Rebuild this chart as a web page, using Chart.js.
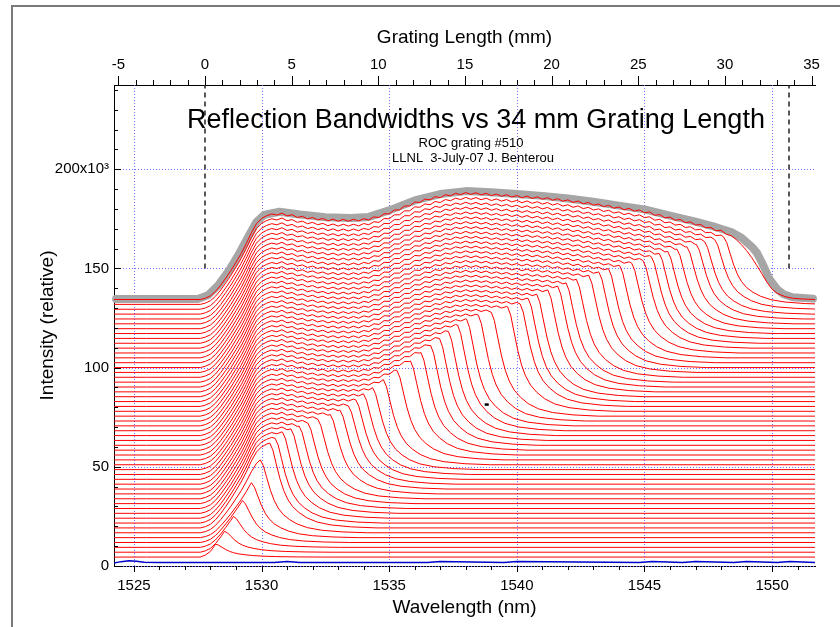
<!DOCTYPE html>
<html>
<head>
<meta charset="utf-8">
<script src="https://cdn.jsdelivr.net/npm/chart.js@4.4.1/dist/chart.umd.min.js"></script>
<style>
  html, body { margin: 0; padding: 0; background: #fff; }
  canvas { display: block; }
</style>
</head>
<body>
<canvas id="gratingChart" width="840" height="627"></canvas>
<script>
// ---- data (intensity in units of 10^3) ----

// full-length (top) spectrum: wavelength (nm) and intensity
const envWl = [1524.22, 1525.5, 1527.0, 1527.6, 1527.8, 1528.0, 1528.2, 1528.4, 1528.6, 1528.8,
  1529.0, 1529.2, 1529.4, 1529.6, 1529.8, 1530.0, 1530.2,
  1530.4, 1530.6, 1530.8, 1531.0, 1531.2, 1531.4, 1531.6, 1531.8, 1532.0, 1532.2,
  1532.4, 1532.6, 1532.8, 1533.0, 1533.2, 1533.4, 1533.6, 1533.8, 1534.0, 1534.2,
  1534.4, 1534.6, 1534.8, 1535.0, 1535.2, 1535.4, 1535.6, 1535.8, 1536.0, 1536.2,
  1536.4, 1536.6, 1536.8, 1537.0, 1537.2, 1537.4, 1537.6, 1537.8, 1538.0, 1538.2,
  1538.4, 1538.6, 1538.8, 1539.0, 1539.2, 1539.4, 1539.6, 1539.8, 1540.0, 1540.2,
  1540.4, 1540.6, 1540.8, 1541.0, 1541.2, 1541.4, 1541.6, 1541.8, 1542.0, 1542.2,
  1542.4, 1542.6, 1542.8, 1543.0, 1543.2, 1543.4, 1543.6, 1543.8, 1544.0, 1544.2,
  1544.4, 1544.6, 1544.8, 1545.0, 1545.2, 1545.4, 1545.6, 1545.8, 1546.0, 1546.2,
  1546.4, 1546.6, 1546.8, 1547.0, 1547.2, 1547.4, 1547.6, 1547.8, 1548.0, 1548.2,
  1548.4, 1548.6, 1548.8, 1549.0, 1549.2, 1549.4, 1549.6, 1549.8, 1550.0, 1550.2,
  1550.5, 1550.8, 1551.2, 1551.7];
const envTop = [134.35, 134.35, 134.35, 134.35, 135.0, 136.2, 138.5, 141.6, 145.2, 149.0,
  153.2, 157.5, 162.5, 168.0, 172.6, 175.2, 176.6,
  177.5, 176.9, 177.9, 176.5, 177.1, 175.7, 176.3, 175.0, 175.7, 174.5,
  175.2, 174.0, 174.9, 173.8, 174.8, 173.8, 174.8, 173.9, 175.1, 174.5,
  176.0, 175.7, 177.6, 177.5, 179.5, 179.5, 181.5, 181.5, 183.5, 183.3,
  185.0, 184.6, 186.2, 185.7, 187.2, 186.6, 187.9, 187.2, 188.3, 187.3,
  188.2, 187.1, 187.9, 186.7, 187.5, 186.4, 187.2, 186.0, 186.8, 185.6,
  186.5, 185.3, 186.1, 184.9, 185.7, 184.4, 185.2, 183.9, 184.6, 183.3,
  184.0, 182.6, 183.3, 181.9, 182.5, 181.2, 181.8, 180.4, 181.0, 179.6,
  180.3, 178.9, 179.5, 178.1, 178.5, 176.8, 177.2, 175.5, 175.9, 174.3,
  174.7, 173.1, 173.5, 171.9, 172.2, 170.5, 170.7, 169.0, 169.3, 167.3,
  166.5, 164.5, 162.0, 159.0, 155.5, 151.5, 147.3, 143.0, 139.5, 137.5,
  135.8, 135.0, 134.6, 134.35];

// baseline of each stacked trace (bottom to top)
const traceBase = [4.5, 6.95, 9.4, 11.85, 14.3, 16.75, 19.2, 21.65, 24.1, 26.55,
  29.0, 31.45, 33.9, 36.35, 38.8, 41.25, 43.7, 46.15, 48.6, 51.05,
  53.5, 55.95, 58.4, 60.85, 63.3, 65.75, 68.2, 70.65, 73.1, 75.55,
  78.0, 80.45, 82.9, 85.35, 87.8, 90.25, 92.7, 95.15, 97.6, 100.05,
  102.5, 104.95, 107.4, 109.85, 112.3, 114.75, 117.2, 119.65, 122.1, 124.55,
  127.0, 129.45, 131.9, 134.35];

// wavelength where each trace's reflection band ends (null = full band)
const traceCut = [1528.2, 1528.55, 1528.9, 1529.25, 1529.6, 1529.95, 1530.32, 1530.53, 1530.82, 1531.15,
  1531.47, 1531.81, 1532.2, 1532.69, 1533.07, 1533.4, 1533.69, 1533.99, 1534.35, 1534.77,
  1535.3, 1535.83, 1536.24, 1536.62, 1536.97, 1537.32, 1537.68, 1538.03, 1538.49, 1539.0,
  1539.64, 1540.13, 1540.45, 1540.78, 1541.22, 1541.6, 1541.93, 1542.33, 1542.82, 1543.22,
  1543.59, 1544.03, 1544.5, 1544.94, 1545.27, 1545.58, 1545.91, 1546.27, 1546.66, 1547.03,
  1547.35, 1547.75, 1548.1, null];

// peak height of the shortest (weak) gratings, bottom traces only
const traceRidge = [11, 17.5, 25, 33, 42, 53.5];

// shape of the falling band edge: distance past the cut (nm) and fraction left
const fallDwl = [0, 0.12, 0.25, 0.4, 0.55, 0.7, 0.9, 1.15, 1.45, 1.85, 2.4, 3.2, 4.2];
const fallFrac = [1, 0.92, 0.76, 0.58, 0.44, 0.34, 0.25, 0.18, 0.12, 0.07, 0.035, 0.012, 0];

// thick grey full-grating trace
const grayWl = [1524.3, 1527.5, 1527.9, 1528.3, 1528.7, 1529.1, 1529.5, 1529.8, 1530.1, 1530.7,
  1531.5, 1532.5, 1533.5, 1534.2, 1535.0, 1536.0, 1537.0, 1538.0, 1539.0, 1540.0,
  1541.0, 1542.0, 1543.0, 1544.0, 1545.0, 1546.0, 1547.0, 1547.8, 1548.4, 1548.8,
  1549.2, 1549.4, 1549.6, 1549.9, 1550.2, 1550.45, 1550.8, 1551.6];
const grayTop = [134.6, 134.6, 136.5, 141.5, 148.5, 157.0, 166.5, 173.5, 177.0, 178.6,
  177.2, 175.8, 175.5, 176.0, 179.3, 184.3, 187.5, 189.0, 188.4, 187.5,
  186.6, 185.3, 183.6, 181.7, 179.8, 176.6, 173.6, 170.8, 168.4, 165.5,
  161.0, 158.0, 153.0, 144.6, 139.5, 137.0, 135.5, 134.8];

// blue reference trace near zero
const blueWl = [1524.22, 1524.5, 1524.8, 1525.1, 1525.4, 1526.0, 1528.0, 1530.5, 1531.0, 1531.5,
  1534.0, 1536.5, 1537.0, 1539.5, 1540.0, 1544.8, 1545.3, 1546.5, 1547.0, 1548.5,
  1549.0, 1550.2, 1550.7, 1551.7];
const blueVal = [1.5, 2.2, 2.6, 2.4, 1.9, 1.8, 1.8, 1.8, 2.3, 1.8,
  1.8, 1.8, 2.3, 1.8, 2.3, 1.8, 2.3, 1.8, 2.3, 1.8,
  2.3, 1.8, 2.3, 1.8];

// stray black mark
const markWl = [1538.74, 1538.9];
const markVal = [81.4, 81.4];

// grating length (mm) of the dashed markers, drawn from 150 up
const markerMm = [0, 33.7];
const markerSpan = [150, 242.5];

// tick labels
const wlTicks = [1525, 1530, 1535, 1540, 1545, 1550];
const mmTicks = [-5, 0, 5, 10, 15, 20, 25, 30, 35];
const intensityTicks = [0, 50, 100, 150, 200];

// ---- build datasets ----
function envAt(wl) {
  for (let k = 1; k < envWl.length; k++) {
    if (wl <= envWl[k]) {
      const t = (wl - envWl[k - 1]) / (envWl[k] - envWl[k - 1]);
      return envTop[k - 1] + t * (envTop[k] - envTop[k - 1]);
    }
  }
  return envTop[envTop.length - 1];
}

const topBase = envTop[0];
const lastWl = envWl[envWl.length - 1];

const redSets = traceBase.map(function (b, i) {
  const cut = traceCut[i];
  const pts = [];
  let gain = 1;
  if (cut !== null && traceRidge[i] !== undefined) {
    gain = (traceRidge[i] - b) / (envAt(cut) - topBase);
  }
  for (let k = 0; k < envWl.length; k++) {
    if (cut !== null && envWl[k] >= cut) break;
    pts.push({ x: envWl[k], y: b + gain * (envTop[k] - topBase) });
  }
  if (cut !== null) {
    const amp = gain * (envAt(cut) - topBase);
    fallDwl.forEach(function (d, k) {
      pts.push({ x: cut + d, y: b + amp * fallFrac[k] });
    });
    if (cut + fallDwl[fallDwl.length - 1] < lastWl) pts.push({ x: lastWl, y: b });
  }
  return {
    data: pts,
    borderColor: "#ff0000",
    borderWidth: 1,
  };
}).reverse();

const datasets = [
  {
    data: markWl.map((x, k) => ({ x: x, y: markVal[k] })),
    borderColor: "#000000",
    borderWidth: 2.5,
  },
  ...markerMm.map(function (mm) {
    return {
      xAxisID: "x2",
      data: markerSpan.map((y) => ({ x: mm, y: y })),
      borderColor: "#222222",
      borderWidth: 1.5,
      borderDash: [5, 4],
    };
  }),
  {
    data: blueWl.map((x, k) => ({ x: x, y: blueVal[k] })),
    borderColor: "#0000cc",
    borderWidth: 1.5,
  },
  ...redSets,
  {
    data: grayWl.map((x, k) => ({ x: x, y: grayTop[k] })),
    borderColor: "#a6a6a6",
    borderWidth: 8,
    borderCapStyle: "round",
    borderJoinStyle: "round",
    clip: false,
  },
];

// ---- gridlines, minor ticks, titles, frame ----
const decor = {
  id: "decor",
  beforeDraw(chart) {
    const c = chart.ctx;
    c.save();
    c.fillStyle = "#ffffff";
    c.fillRect(0, 0, chart.width, chart.height);
    c.restore();
  },
  beforeDatasetsDraw(chart) {
    const c = chart.ctx;
    const a = chart.chartArea;
    const sx = chart.scales.x;
    const sy = chart.scales.y;
    c.save();
    c.strokeStyle = "#6f6fff";
    c.lineWidth = 1;
    c.setLineDash([1, 2]);
    c.beginPath();
    wlTicks.forEach(function (v) {
      const x = Math.round(sx.getPixelForValue(v)) + 0.5;
      c.moveTo(x, a.top);
      c.lineTo(x, a.bottom);
    });
    intensityTicks.forEach(function (v) {
      const y = Math.round(sy.getPixelForValue(v)) + 0.5;
      c.moveTo(a.left, y);
      c.lineTo(a.right, y);
    });
    c.stroke();
    c.restore();
  },
  afterDraw(chart) {
    const c = chart.ctx;
    const a = chart.chartArea;
    const sx = chart.scales.x;
    const sx2 = chart.scales.x2;
    const sy = chart.scales.y;
    c.save();
    c.strokeStyle = "#000000";
    c.lineWidth = 1;
    c.beginPath();
    // left axis: ticks inside
    for (let v = 0; v <= 240; v += 10) {
      const y = Math.round(sy.getPixelForValue(v)) + 0.5;
      c.moveTo(a.left, y);
      c.lineTo(a.left + (v % 50 === 0 ? 7 : 4), y);
    }
    // bottom axis: ticks outside
    for (let v = 1525; v <= 1551; v += 1) {
      const x = Math.round(sx.getPixelForValue(v)) + 0.5;
      c.moveTo(x, a.bottom);
      c.lineTo(x, a.bottom + ((v - 1525) % 5 === 0 ? 6 : 4));
    }
    // top axis: ticks outside
    for (let v = -5; v <= 35; v += 1) {
      const x = Math.round(sx2.getPixelForValue(v)) + 0.5;
      c.moveTo(x, a.top);
      c.lineTo(x, a.top - ((v + 5) % 5 === 0 ? 9 : 5));
    }
    c.stroke();

    // outer frame
    c.strokeStyle = "#7a7a7a";
    c.lineWidth = 2;
    c.strokeRect(12, 6, 900, 700);

    // titles inside the plot
    c.fillStyle = "#000000";
    c.textAlign = "center";
    c.textBaseline = "middle";
    c.font = '27px "Liberation Sans", Arial, sans-serif';
    c.fillText("Reflection Bandwidths vs 34 mm Grating Length", 476, 121);
    c.font = '13px "Liberation Sans", Arial, sans-serif';
    c.fillText("ROC grating #510", 471, 143.5);
    c.fillText("LLNL  3-July-07 J. Benterou", 473, 158.5);
    c.restore();
  },
};

// ---- chart ----
const font = '"Liberation Sans", Arial, sans-serif';
Chart.defaults.font.family = font;
Chart.defaults.color = "#000000";

new Chart(document.getElementById("gratingChart").getContext("2d"), {
  type: "line",
  data: { datasets: datasets },
  options: {
    responsive: false,
    animation: false,
    events: [],
    layout: { padding: { left: 0, right: 25, top: 0, bottom: 0 } },
    elements: {
      point: { radius: 0 },
      line: { tension: 0, fill: false },
    },
    plugins: {
      legend: { display: false },
      tooltip: { enabled: false },
    },
    scales: {
      x: {
        type: "linear",
        position: "bottom",
        min: 1524.22,
        max: 1551.68,
        afterFit: (s) => { s.height = 61; },
        afterBuildTicks: (s) => { s.ticks = wlTicks.map((v) => ({ value: v })); },
        ticks: {
          padding: 11, font: { size: 15 }, maxRotation: 0, autoSkip: false, color: "#000",
          callback: (v) => String(v),
        },
        grid: { display: false, drawTicks: false },
        border: { display: true, color: "#000", width: 1 },
        title: {
          display: true,
          text: "Wavelength (nm)",
          font: { size: 19 },
          color: "#000",
          padding: { top: 0, bottom: 7.5 },
        },
      },
      x2: {
        type: "linear",
        position: "top",
        min: -5.25,
        max: 35.2,
        afterFit: (s) => { s.height = 85; },
        afterBuildTicks: (s) => { s.ticks = mmTicks.map((v) => ({ value: v })); },
        ticks: {
          padding: 11, font: { size: 15 }, maxRotation: 0, autoSkip: false, color: "#000",
          callback: (v) => String(v),
        },
        grid: { display: false, drawTicks: false },
        border: { display: true, color: "#000", width: 1 },
        title: {
          display: true,
          text: "Grating Length (mm)",
          font: { size: 19 },
          color: "#000",
          padding: { top: 26, bottom: 0 },
        },
      },
      y: {
        type: "linear",
        position: "left",
        min: 0,
        max: 242.5,
        afterFit: (s) => { s.width = 114; },
        afterBuildTicks: (s) => { s.ticks = intensityTicks.map((v) => ({ value: v })); },
        ticks: {
          padding: 5,
          font: { size: 15 },
          color: "#000",
          callback: (v) => (v === 200 ? "200x10\u00b3" : String(v)),
        },
        grid: { display: false, drawTicks: false },
        border: { display: true, color: "#000", width: 1 },
        title: {
          display: true,
          text: "Intensity (relative)",
          font: { size: 19 },
          color: "#000",
          padding: { top: 36, bottom: 0 },
        },
      },
    },
  },
  plugins: [decor],
});
</script>
</body>
</html>
